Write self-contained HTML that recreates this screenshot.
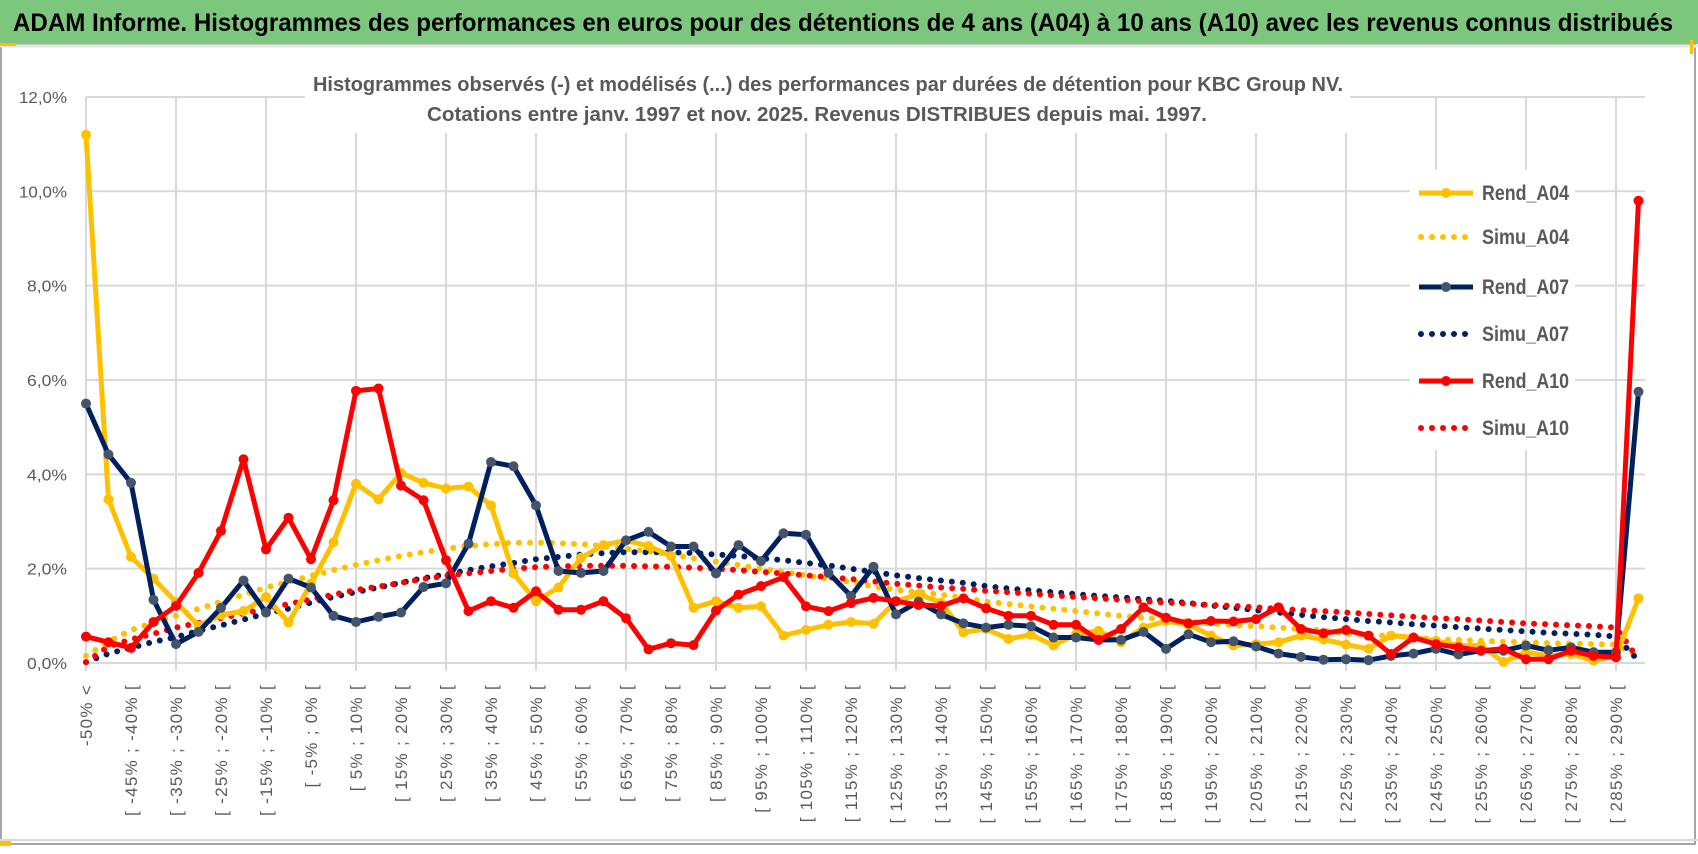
<!DOCTYPE html>
<html><head><meta charset="utf-8">
<style>
html,body{margin:0;padding:0;background:#fff;}
svg{display:block;font-family:"Liberation Sans",sans-serif;}
</style></head>
<body>
<svg id="chart" width="1698" height="854" viewBox="0 0 1698 854" xmlns="http://www.w3.org/2000/svg">
  <rect x="0" y="0" width="1698" height="854" fill="#ffffff"/>
  <rect x="1" y="44" width="1694" height="800" fill="none" stroke="#a6a6a6" stroke-width="2"/>
  <rect x="0" y="0" width="1698" height="44" fill="#7dc67d"/>
  <line x1="0" y1="46" x2="1698" y2="46" stroke="#e6e6e6" stroke-width="3"/>
  <rect x="0" y="43" width="16" height="3" fill="#ffc000"/>
  <rect x="0" y="841" width="11" height="5" fill="#ffc000"/>
  <rect x="1690" y="40" width="3" height="14" fill="#ffc000"/>
  <line x1="0" y1="840" x2="1698" y2="840" stroke="#d9d9d9" stroke-width="2"/>
  <text x="13" y="31" font-size="25" font-weight="bold" fill="#000" textLength="1660" lengthAdjust="spacingAndGlyphs">ADAM Informe. Histogrammes des performances en euros pour des détentions de 4 ans (A04) à 10 ans (A10) avec les revenus connus distribués</text>
  <g id="grid"></g>
  <rect x="305" y="60" width="1045" height="73" fill="#ffffff"/>
  <text x="313" y="91" font-size="20" font-weight="bold" fill="#595959" textLength="1030" lengthAdjust="spacingAndGlyphs">Histogrammes observés (-) et modélisés (...) des performances par durées de détention pour KBC Group NV.</text>
  <text x="427" y="121" font-size="20" font-weight="bold" fill="#595959" textLength="780" lengthAdjust="spacingAndGlyphs">Cotations entre janv. 1997 et nov. 2025. Revenus DISTRIBUES depuis mai. 1997.</text>
  <g id="yaxis"></g>
  <g id="xaxis"></g>
  <g id="series"></g>
  <g id="legend"></g>
</svg>
<script>
const rendA04 = [11.2,3.47,2.25,1.79,1.29,0.79,1.02,1.1,1.4,0.86, 1.68,2.56,3.8,3.47,4.03,3.82,3.7,3.74,3.34,1.9, 1.31,1.6,2.23,2.5,2.6,2.48,2.27,1.17,1.31,1.17, 1.2,0.58,0.7,0.81,0.87,0.83,1.31,1.46,1.28,0.65, 0.72,0.51,0.6,0.37,0.61,0.68,0.44,0.75,0.89,0.81, 0.58,0.37,0.4,0.44,0.58,0.5,0.39,0.3,0.58,0.54, 0.47,0.37,0.37,0.02,0.23,0.15,0.19,0.05,0.15,1.37];
const rendA07 = [5.5,4.42,3.82,1.34,0.4,0.66,1.17,1.75,1.07,1.79, 1.6,1.0,0.87,0.98,1.07,1.61,1.69,2.53,4.26,4.17, 3.34,1.95,1.91,1.95,2.6,2.78,2.47,2.47,1.9,2.5, 2.16,2.75,2.72,1.91,1.42,2.04,1.03,1.3,1.03,0.84, 0.75,0.81,0.78,0.54,0.54,0.49,0.49,0.66,0.3,0.61, 0.44,0.46,0.35,0.2,0.13,0.07,0.08,0.06,0.15,0.2, 0.3,0.18,0.26,0.26,0.37,0.27,0.33,0.23,0.23,5.75];
const rendA10 = [0.56,0.44,0.32,0.87,1.21,1.91,2.8,4.32,2.41,3.08, 2.2,3.45,5.77,5.82,3.76,3.45,2.18,1.1,1.31,1.17, 1.52,1.13,1.13,1.31,0.95,0.29,0.42,0.38,1.11,1.45, 1.63,1.82,1.2,1.1,1.27,1.38,1.31,1.23,1.21,1.37, 1.16,1.0,1.0,0.81,0.81,0.49,0.72,1.18,0.96,0.84, 0.89,0.88,0.93,1.18,0.72,0.63,0.7,0.58,0.19,0.54, 0.4,0.33,0.26,0.3,0.08,0.08,0.26,0.15,0.12,9.8];
const simuA04 = [0.15,0.45,0.7,0.85,1.0,1.15,1.3,1.45,1.6,1.72, 1.85,1.97,2.08,2.18,2.27,2.35,2.42,2.48,2.52,2.55, 2.55,2.54,2.52,2.48,2.42,2.37,2.3,2.22,2.15,2.08, 2.0,1.93,1.86,1.79,1.72,1.62,1.55,1.5,1.45,1.38, 1.3,1.25,1.2,1.15,1.1,1.05,1.0,0.96,0.93,0.88, 0.84,0.8,0.78,0.75,0.72,0.69,0.62,0.6,0.57,0.54, 0.5,0.49,0.47,0.45,0.44,0.42,0.41,0.4,0.39,0.15];
const simuA07 = [0.02,0.2,0.32,0.45,0.55,0.68,0.8,0.92,1.05,1.15, 1.28,1.4,1.5,1.6,1.7,1.8,1.88,1.97,2.05,2.12, 2.2,2.25,2.3,2.33,2.35,2.35,2.35,2.33,2.3,2.27, 2.22,2.18,2.12,2.07,2.0,1.93,1.86,1.8,1.75,1.7, 1.63,1.58,1.54,1.5,1.46,1.42,1.39,1.35,1.32,1.27, 1.22,1.17,1.12,1.07,1.02,0.97,0.93,0.89,0.86,0.82, 0.79,0.76,0.73,0.7,0.67,0.64,0.62,0.6,0.56,0.05];
const simuA10 = [0.02,0.35,0.5,0.62,0.75,0.85,0.95,1.05,1.15,1.25, 1.35,1.45,1.55,1.62,1.7,1.78,1.85,1.9,1.95,2.0, 2.03,2.05,2.06,2.06,2.06,2.05,2.04,2.02,2.0,1.97, 1.93,1.9,1.86,1.82,1.78,1.73,1.68,1.64,1.6,1.57, 1.53,1.5,1.47,1.43,1.4,1.37,1.34,1.31,1.28,1.26, 1.23,1.21,1.18,1.15,1.12,1.1,1.07,1.04,1.01,0.98, 0.95,0.93,0.9,0.87,0.84,0.82,0.8,0.78,0.75,0.08];
const yTicks = [0,2,4,6,8,10,12];
const yTickLabels = ["0,0%","2,0%","4,0%","6,0%","8,0%","10,0%","12,0%"];
const legendNames = ["Rend_A04","Simu_A04","Rend_A07","Simu_A07","Rend_A10","Simu_A10"];
const categories = ["-50% <"];
for (let i = 1; i < 70; i++) { const lo = -55 + 5*i; categories.push("[ " + lo + "% ; " + (lo+5) + "% ["); }

const NS = "http://www.w3.org/2000/svg";
const X0 = 86, STEP = 22.5, Y0 = 663, PX = 47.17, RIGHT = 1645;
const xs = i => X0 + i*STEP;
const ys = v => Y0 - v*PX;
function mk(tag, attrs, parent){ const e = document.createElementNS(NS, tag); for (const k in attrs) e.setAttribute(k, attrs[k]); parent.appendChild(e); return e; }

const grid = document.getElementById('grid');
yTicks.forEach((t, k) => {
  const l = mk('line', {x1: X0, x2: RIGHT, y1: ys(t), y2: ys(t), stroke: '#d9d9d9', 'stroke-width': 2}, grid);
  
  
});
for (let i = 0; i < categories.length; i += 4) {
  const l = mk('line', {x1: xs(i), x2: xs(i), y1: ys(12), y2: Y0 + 8, stroke: '#d9d9d9', 'stroke-width': 2}, grid);
  
  
}

const yaxis = document.getElementById('yaxis');
yTicks.forEach((t, k) => {
  const tx = mk('text', {x: 67, y: ys(t) + 6, 'text-anchor': 'end', 'font-size': 16, fill: '#595959', textLength: yTickLabels[k].length > 4 ? 48 : 40, lengthAdjust: 'spacingAndGlyphs'}, yaxis);
  
  
  tx.textContent = yTickLabels[k];
});

const xaxis = document.getElementById('xaxis');
categories.forEach((c, i) => {
  if (i !== 0 && i % 2 !== 0) return;
  const x = xs(i) + 6, y = 684;
  const tx = mk('text', {x: x, y: y, 'text-anchor': 'end', 'font-size': 17, 'letter-spacing': 1.3, fill: '#595959', transform: 'rotate(-90 ' + x + ' ' + y + ')'}, xaxis);
  
  
  tx.textContent = c;
});

const series = document.getElementById('series');
function pathOf(arr){ return arr.map((v, i) => (i ? 'L' : 'M') + xs(i).toFixed(1) + ' ' + ys(v).toFixed(1)).join(' '); }
function dotted(arr, color, name){
  const p = mk('path', {d: pathOf(arr), fill: 'none', stroke: color, 'stroke-width': 6, 'stroke-linecap': 'round', 'stroke-dasharray': '0 11'}, series);
  
  
}
function solid(arr, color, markerColor, name){
  const p = mk('path', {d: pathOf(arr), fill: 'none', stroke: color, 'stroke-width': 5, 'stroke-linejoin': 'round'}, series);
  
  
  arr.forEach((v, i) => {
    const c = mk('circle', {cx: xs(i), cy: ys(v), r: 5, fill: markerColor}, series);
    
    
  });
}
dotted(simuA04, '#ffc000', 'simu-a04-line');
dotted(simuA07, '#002060', 'simu-a07-line');
dotted(simuA10, '#ff0000', 'simu-a10-line');
solid(rendA04, '#ffc000', '#ffc000', 'rend-a04-line');
solid(rendA07, '#002060', '#44546a', 'rend-a07-line');
solid(rendA10, '#ff0000', '#ff0000', 'rend-a10-line');

const legend = document.getElementById('legend');
const legColors = ['#ffc000','#ffc000','#002060','#002060','#ff0000','#ff0000'];
const legMarker = ['#ffc000',null,'#44546a',null,'#ff0000',null];
const legY = [193,237,287,334,381,428];
const lb = mk('rect', {x: 1410, y: 170, width: 165, height: 280, fill: '#ffffff'}, legend);


legendNames.forEach((n, k) => {
  const g = mk('g', {}, legend);
  
  
  const y = legY[k];
  if (k % 2 === 0) {
    mk('line', {x1: 1419, x2: 1473, y1: y, y2: y, stroke: legColors[k], 'stroke-width': 5}, g);
    mk('circle', {cx: 1446, cy: y, r: 5, fill: legMarker[k]}, g);
  } else {
    mk('line', {x1: 1421, x2: 1473, y1: y, y2: y, stroke: legColors[k], 'stroke-width': 6, 'stroke-linecap': 'round', 'stroke-dasharray': '0 11'}, g);
  }
  const t = mk('text', {x: 1482, y: y + 7, 'font-size': 21, 'font-weight': 'bold', fill: '#595959', textLength: 87, lengthAdjust: 'spacingAndGlyphs'}, g);
  t.textContent = n;
});
</script>
</body></html>
